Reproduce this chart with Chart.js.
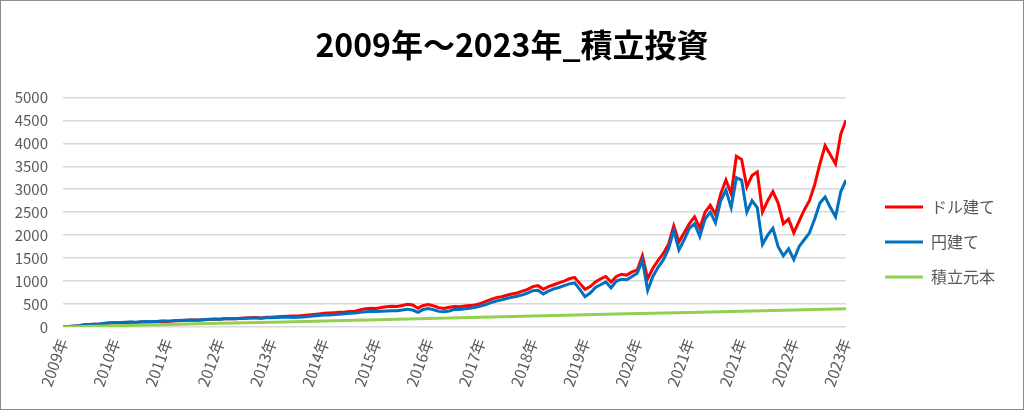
<!DOCTYPE html>
<html><head><meta charset="utf-8">
<script src="https://cdn.jsdelivr.net/npm/chart.js@4.4.0/dist/chart.umd.min.js"></script>
<style>html,body{margin:0;padding:0;background:#fff;}#wrap{width:1024px;height:410px;position:relative;}</style>
</head><body><div id="wrap"><canvas id="c" width="1024" height="410"></canvas></div>
<script>
const chartTitle = '2009年～2023年_積立投資';
const tickLabels = ['2009年','2010年','2011年','2012年','2013年','2014年','2015年','2016年','2017年','2018年','2019年','2020年','2021年','2021年','2022年','2023年'];
const seriesNames = ['ドル建て','円建て','積立元本'];
const pointsPerLabel = 10;
const usdValues = [
 0, 8, 18, 28, 45, 52, 58, 62, 75, 85,
 92, 95, 98, 102, 100, 108, 112, 110, 118, 125,
 120, 128, 135, 140, 145, 150, 148, 158, 165, 170,
 168, 178, 185, 180, 190, 195, 200, 205, 198, 210,
 215, 222, 228, 232, 238, 240, 250, 260, 272, 285,
 300, 305, 312, 320, 325, 335, 345, 375, 400, 410,
 405, 425, 440, 450, 445, 470, 495, 480, 410, 470,
 490, 460, 420, 405, 430, 445, 440, 455, 470, 480,
 515, 560, 600, 640, 660, 690, 720, 740, 780, 820,
 880, 900, 820, 880, 920, 960, 1000, 1050, 1080, 950,
 820, 880, 980, 1050, 1100, 980, 1100, 1150, 1130, 1200,
 1240, 1550, 1050, 1280, 1450, 1600, 1800, 2200, 1850, 2050,
 2250, 2400, 2150, 2500, 2650, 2450, 2900, 3200, 2900, 3720,
 3650, 3050, 3300, 3380, 2500, 2750, 2950, 2700, 2250, 2350,
 2050, 2300, 2550, 2750, 3100, 3550, 3950, 3750, 3550, 4200,
 4500
];
const jpyValues = [
 0, 10, 20, 30, 48, 55, 60, 65, 80, 90,
 95, 98, 102, 108, 104, 112, 118, 115, 122, 130,
 128, 135, 140, 145, 150, 155, 152, 160, 168, 172,
 170, 178, 182, 178, 185, 190, 195, 198, 190, 200,
 202, 208, 212, 215, 205, 210, 220, 230, 240, 250,
 260, 262, 270, 280, 290, 298, 305, 320, 333, 340,
 335, 345, 350, 355, 352, 370, 385, 370, 320, 380,
 400, 375, 340, 330, 350, 385, 380, 395, 410, 430,
 455, 490, 530, 565, 590, 620, 650, 670, 700, 740,
 790, 800, 720, 780, 830, 860, 900, 940, 960, 820,
 660, 740, 860, 920, 980, 850, 1000, 1040, 1030, 1100,
 1170, 1450, 800, 1100, 1300, 1460, 1700, 2100, 1680, 1900,
 2150, 2250, 1970, 2350, 2500, 2270, 2750, 2980, 2600, 3250,
 3200, 2500, 2750, 2600, 1800, 2000, 2150, 1750, 1550, 1700,
 1470, 1750, 1900, 2050, 2350, 2700, 2830, 2600, 2400, 2950,
 3200
];
const principalValues = [0, 27, 53, 80, 106, 133, 159, 186, 212, 239, 265, 292, 318, 345, 371, 398];
const yMin = 0, yMax = 5000, yStep = 500;
const seriesColors = ['#ff0000', '#0070c0', '#92d050'];

const FONT = "'Noto Sans CJK JP', 'Noto Sans', sans-serif";

const borderPlugin = {
  id: 'outerBorder',
  afterDraw(chart) {
    const ctx = chart.ctx;
    ctx.save();
    ctx.strokeStyle = '#8c8c8c';
    ctx.lineWidth = 1;
    ctx.strokeRect(0.5, 0.5, chart.width - 1, chart.height - 1);
    ctx.restore();
  }
};
const layoutFix = {
  id: 'layoutFix',
  afterLayout(chart) {
    const lg = chart.legend;
    if (lg) {
      const dx = (chart.chartArea.right + 20) - lg.left;
      lg.left += dx; lg.right += dx;
      lg.top += 37; lg.bottom += 37;
    }
    const tb = chart.titleBlock;
    if (tb) { tb.left = 0; tb.right = chart.width; tb.width = chart.width; }
  }
};

new Chart(document.getElementById('c'), {
  type: 'line',
  data: {
    datasets: [
      { label: seriesNames[0], data: usdValues.map((v, i) => ({x: i, y: v})), borderColor: seriesColors[0], backgroundColor: seriesColors[0], borderWidth: 3, pointRadius: 0, tension: 0, order: 3 },
      { label: seriesNames[1], data: jpyValues.map((v, i) => ({x: i, y: v})), borderColor: seriesColors[1], backgroundColor: seriesColors[1], borderWidth: 3, pointRadius: 0, tension: 0, order: 2 },
      { label: seriesNames[2], data: principalValues.map((v, i) => ({x: i * pointsPerLabel, y: v})), borderColor: seriesColors[2], backgroundColor: seriesColors[2], borderWidth: 3, pointRadius: 0, tension: 0, order: 1 }
    ]
  },
  options: {
    responsive: false,
    animation: false,
    devicePixelRatio: 1,
    layout: { padding: { left: 0, right: 39, top: 0, bottom: 0 } },
    scales: {
      x: {
        type: 'linear', min: 0, max: (tickLabels.length - 1) * pointsPerLabel,
        grid: { display: false, drawTicks: false },
        border: { display: false },
        ticks: {
          stepSize: pointsPerLabel, autoSkip: false, maxRotation: 70, minRotation: 70, padding: 9,
          color: '#595959', font: { family: FONT, size: 15.5 },
          callback: (v) => { const k = Math.round(v / pointsPerLabel); return tickLabels[k] ?? ''; }
        },
        afterFit: (s) => { s.height = 83; }
      },
      y: {
        min: yMin, max: yMax,
        grid: { color: '#d9d9d9', lineWidth: 1.5, drawTicks: false },
        border: { display: false },
        ticks: { stepSize: yStep, padding: 15, color: '#595959', font: { family: FONT, size: 15 }, callback: (v) => String(v) },
        afterFit: (s) => { s.width = 63; }
      }
    },
    plugins: {
      title: {
        display: true, text: chartTitle, color: '#000',
        font: { family: FONT, size: 32, weight: 'bold' },
        padding: { top: 26, bottom: 33 }
      },
      legend: {
        position: 'right',
        labels: {
          boxWidth: 38, boxHeight: 3, padding: 19, color: '#595959',
          font: { family: FONT, size: 16 },
          sort: (a, b) => a.datasetIndex - b.datasetIndex,
          generateLabels: (chart) => Chart.defaults.plugins.legend.labels.generateLabels(chart).map(it => Object.assign(it, { lineWidth: 0, fillStyle: it.strokeStyle }))
        }
      },
      tooltip: { enabled: false }
    }
  },
  plugins: [borderPlugin, layoutFix]
});
</script></body></html>
